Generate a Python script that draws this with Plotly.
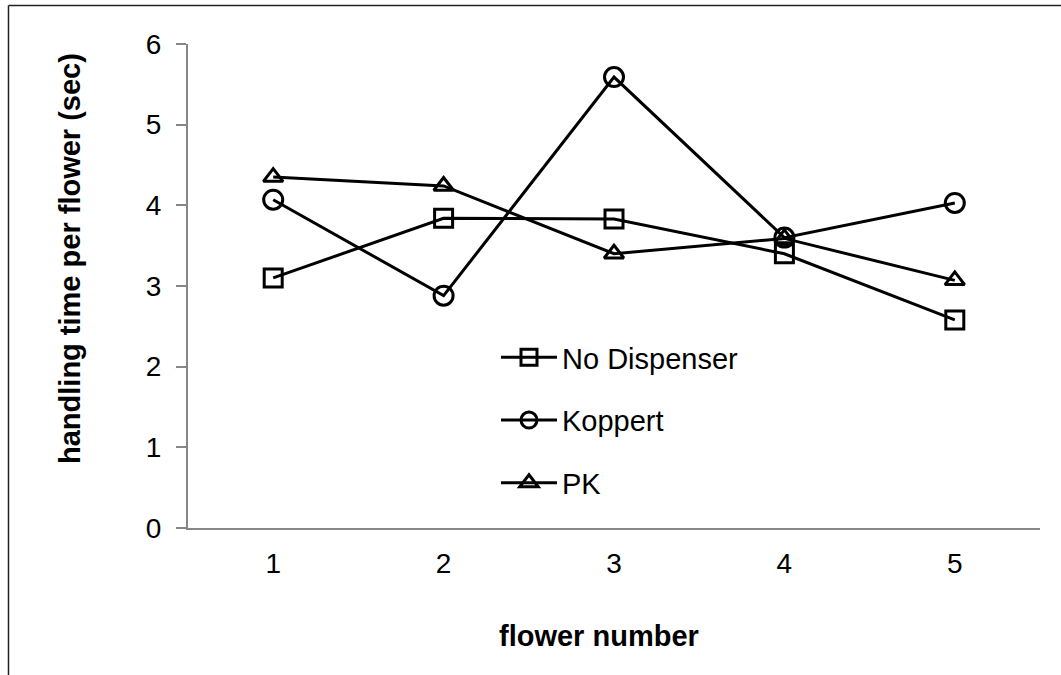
import plotly.graph_objects as go

# flower position visited in sequence
flowers = [1, 2, 3, 4, 5]
flower_labels = ["1", "2", "3", "4", "5"]

# mean handling time per flower (sec) for each treatment
no_dispenser = [3.10, 3.84, 3.83, 3.40, 2.58]
koppert = [4.07, 2.88, 5.59, 3.60, 4.03]
pk = [4.35, 4.24, 3.40, 3.59, 3.07]

y_ticks = [0, 1, 2, 3, 4, 5, 6]

FONT = "Liberation Sans, Arial, sans-serif"

series = [
    ("No Dispenser", no_dispenser, "square-open", 18),
    ("Koppert", koppert, "circle-open", 19),
    ("PK", pk, "triangle-up-open", 17),
]

fig = go.Figure()
for name, vals, symbol, size in series:
    fig.add_trace(go.Scatter(
        x=flowers, y=vals, name=name, mode="lines+markers",
        legendgroup=name,
        line=dict(color="black", width=3),
        marker=dict(symbol=symbol, size=size, color="black",
                    line=dict(color="black", width=3)),
    ))

W, H = 1061, 675
L, R, T, B = 188, 21, 44, 147
pw = W - L - R


def px_x(px):
    return (px - L) / pw


def px_y(py):
    return (H - B - py) / (H - T - B)


fig.update_layout(
    width=W, height=H,
    margin=dict(l=L, r=R, t=T, b=B),
    paper_bgcolor="white", plot_bgcolor="white",
    font=dict(family=FONT, color="black", size=28),
    showlegend=True,
    legend=dict(
        x=px_x(496), y=px_y(332), xanchor="left", yanchor="top",
        bgcolor="rgba(0,0,0,0)", font=dict(size=29),
        tracegroupgap=22, traceorder="grouped", itemwidth=56,
    ),
    xaxis=dict(
        range=[0.5, 5.5], tickmode="array", tickvals=flowers,
        ticktext=flower_labels, showgrid=False, zeroline=False,
        showline=True, linecolor="#868686", linewidth=2,
        ticks="", ticklabelstandoff=9,
        tickfont=dict(size=28),
    ),
    yaxis=dict(
        range=[0, 6], tickmode="array", tickvals=y_ticks,
        showgrid=False, zeroline=False, showline=True,
        linecolor="#868686", linewidth=2,
        ticks="outside", ticklen=10, tickcolor="#868686", tickwidth=2,
        ticklabelstandoff=9, tickfont=dict(size=28),
    ),
    annotations=[
        dict(text="<b>flower number</b>", xref="paper", yref="paper",
             x=px_x(599), y=px_y(636), xanchor="center", yanchor="middle",
             showarrow=False, font=dict(size=29)),
        dict(text="<b>handling time per flower (sec)</b>", xref="paper",
             yref="paper", x=px_x(70), y=px_y(259), xanchor="center",
             yanchor="middle", textangle=-90, showarrow=False,
             font=dict(size=29)),
    ],
    shapes=[
        dict(type="line", xref="paper", yref="paper",
             x0=px_x(8.5), x1=px_x(W + 5), y0=px_y(5.5), y1=px_y(5.5),
             line=dict(color="#222222", width=1.5)),
        dict(type="line", xref="paper", yref="paper",
             x0=px_x(8.5), x1=px_x(8.5), y0=px_y(5.5), y1=px_y(H + 5),
             line=dict(color="#222222", width=1.5)),
    ],
)

fig.write_html("out.html")
